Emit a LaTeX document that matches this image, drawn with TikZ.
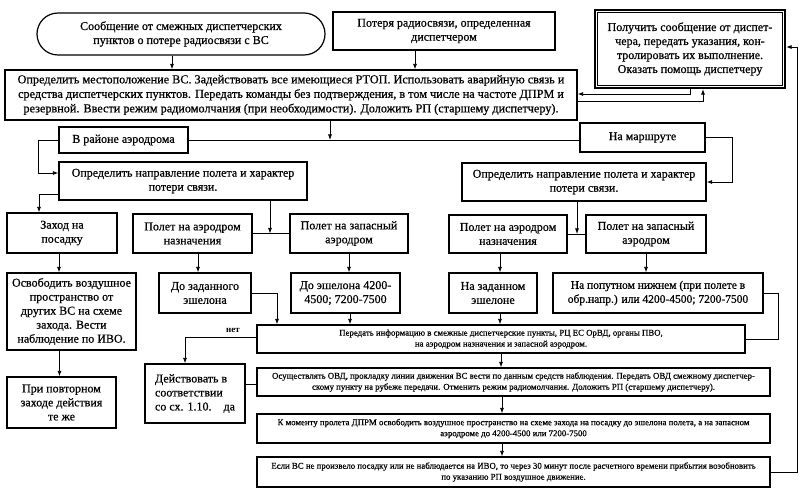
\documentclass[tikz,border=0pt]{standalone}
\usepackage{fontspec}
\setmainfont{Liberation Serif}[UprightFeatures={FakeBold=0.6}]
\usetikzlibrary{arrows.meta,calc}
\begin{document}
\begin{tikzpicture}[x=1pt,y=-1pt,
  box/.style={draw, line width=1.2pt, inner sep=1pt, align=center, font=\fontsize{12}{14}\selectfont},
  bigbox/.style={box, font=\fontsize{12}{14}\selectfont},
  smallbox/.style={box, font=\fontsize{8.8}{11}\selectfont},
  arr/.style={-{Latex[length=5.5pt,width=4pt]}, line width=0.8pt},
  ln/.style={line width=0.8pt},
  lbl/.style={font=\bfseries\fontsize{9}{10}\selectfont, inner sep=1pt}]
\useasboundingbox (0,0) rectangle (800,494);
\fill[white] (0,0) rectangle (800,494);
% top row
\node[box, rounded corners=21pt, minimum width=288pt, minimum height=42pt] (msg) at (181,34)
  {Сообщение от смежных диспетчерских\\пунктов о потере радиосвязи с ВС};
\node[box, minimum width=222pt, minimum height=38pt] (loss) at (444,31)
  {Потеря радиосвязи, определенная\\диспетчером};
\node[box, line width=2.2pt, minimum width=190pt, minimum height=78pt] (rp) at (690,49)
  {Получить сообщение от диспет-\\чера, передать указания, кон-\\тролировать их выполнение.\\Оказать помощь диспетчеру};
\draw[line width=0.7pt] ([shift={(3.5,3.5)}]rp.north west) rectangle ([shift={(-3.5,-3.5)}]rp.south east);
\node[box, font=\fontsize{12.2}{14.5}\selectfont, minimum width=572pt, minimum height=50pt] (main) at (291,95)
  {Определить местоположение ВС. Задействовать все имеющиеся РТОП. Использовать аварийную связь и\\
   средства диспетчерских пунктов. Передать команды без подтверждения, в том числе на частоте ДПРМ и\\
   резервной. Ввести режим радиомолчания (при необходимости). Доложить РП (старшему диспетчеру).};
% second level
\node[box, minimum width=129pt, minimum height=26pt] (area) at (123.5,140) {В районе аэродрома};
\node[box, minimum width=125pt, minimum height=29pt] (route) at (642.5,137.5) {На маршруте};
\node[box, minimum width=248pt, minimum height=38pt] (detL) at (183,181)
  {Определить направление полета и характер\\потери связи.};
\node[box, minimum width=244pt, minimum height=38pt] (detR) at (584,182)
  {Определить направление полета и характер\\потери связи.};
% third level
\node[bigbox, minimum width=110pt, minimum height=40pt] (land) at (62,233) {Заход на\\посадку};
\node[box, minimum width=119pt, minimum height=39pt] (destL) at (192.5,233.5) {Полет на аэродром\\назначения};
\node[box, minimum width=118pt, minimum height=39pt] (altL) at (349,233.5) {Полет на запасный\\аэродром};
\node[box, minimum width=118pt, minimum height=38pt] (destR) at (508,234) {Полет на аэродром\\назначения};
\node[box, minimum width=120pt, minimum height=38pt] (altR) at (646,234) {Полет на запасный\\аэродром};
% fourth level
\node[bigbox, minimum width=129pt, minimum height=77pt] (free) at (71.5,311.5)
  {Освободить воздушное\\пространство от\\других ВС на схеме\\захода. Вести\\наблюдение по ИВО.};
\node[bigbox, minimum width=92pt, minimum height=40pt] (toLvl) at (205,293) {До заданного\\эшелона};
\node[bigbox, minimum width=109pt, minimum height=40pt] (to4200) at (345.5,293) {До эшелона 4200-\\4500; 7200-7500};
\node[bigbox, minimum width=88pt, minimum height=40pt] (atLvl) at (493,293) {На заданном\\эшелоне};
\node[bigbox, font=\fontsize{11.5}{14}\selectfont, minimum width=210pt, minimum height=40pt] (lower) at (658,293)
  {На попутном нижнем (при полете в\\обр.напр.) или 4200-4500; 7200-7500};
% lower blocks
\node[smallbox, minimum width=488pt, minimum height=28pt] (inform) at (501,339)
  {Передать информацию в смежные диспетчерские пункты, РЦ ЕС ОрВД, органы ПВО,\\на аэродром назначения и запасной аэродром.};
\node[bigbox, align=left, minimum width=100pt, minimum height=59pt] (act) at (195,393.5)
  {Действовать в\\соответствии\\со сх. 1.10.\quad да};
\node[bigbox, minimum width=109pt, minimum height=51pt] (repeat) at (61.5,402.5)
  {При повторном\\заходе действия\\те же};
\node[smallbox, minimum width=513pt, minimum height=28pt] (ovd) at (513.5,382)
  {Осуществлять ОВД, прокладку линии движения ВС вести по данным средств наблюдения. Передать ОВД смежному диспетчер-\\скому пункту на рубеже передачи. Отменить режим радиомолчания. Доложить РП (старшему диспетчеру).};
\node[smallbox, minimum width=513pt, minimum height=29pt] (dprm) at (513.5,428.5)
  {К моменту пролета ДПРМ освободить воздушное пространство на схеме захода на посадку до эшелона полета, а на запасном\\аэродроме до 4200-4500 или 7200-7500};
\node[smallbox, minimum width=513pt, minimum height=30pt] (ifnot) at (513.5,472)
  {Если ВС не произвело посадку или не наблюдается на ИВО, то через 30 минут после расчетного времени прибытия возобновить\\по указанию РП воздушное движение.};
\node[lbl] (net) at (233,330) {нет};
% connectors
\draw[arr] ([xshift=-9pt]msg.south) -- ([xshift=-9pt]msg.south |- main.north);
\draw[arr] ([xshift=-29pt]loss.south) -- ([xshift=-29pt]loss.south |- main.north);
\draw[arr] (rp.south) |- ([yshift=1pt]main.east);
\draw[arr] ([yshift=-6pt]main.east) -| ([xshift=13pt]rp.south);
\draw[arr] (ifnot.east) -- ++(27,0) |- ([yshift=2pt]rp.east);
\draw[ln] (area.east) -- (area.east -| route.west);
\draw[arr] ([xshift=39pt]main.south) -- ([xshift=39pt]main.south |- area.east);
\draw[arr] (area.west) -- ++(-20,0) |- ([yshift=8pt]detL.west);
\draw[arr] ([yshift=-13pt]detL.west) -| ([xshift=-23pt]land.north);
\draw[arr] (route.east) -- ++(27,0) |- (detR.east);
\draw[ln] (destL.east) -- (altL.west);
\draw[arr] ([xshift=87pt]detL.south) -- ([xshift=87pt]detL.south |- destL.east);
\draw[ln] (destR.east) -- (altR.west);
\draw[arr] ([xshift=-7pt]detR.south) -- ([xshift=-7pt]detR.south |- destR.east);
\draw[arr] ([xshift=-3pt]land.south) -- ([xshift=-3pt]land.south |- free.north);
\draw[arr] ([xshift=5.5pt]destL.south) -- ([xshift=5.5pt]destL.south |- toLvl.north);
\draw[arr] (altL.south) -- (altL.south |- to4200.north);
\draw[arr] ([xshift=-8pt]destR.south) -- ([xshift=-8pt]destR.south |- atLvl.north);
\draw[arr] (altR.south) -- (altR.south |- lower.north);
\draw[arr] (toLvl.east) -| ([xshift=-224pt]inform.north);
\draw[arr] ([xshift=4.5pt]to4200.south) -- ([xshift=4.5pt]to4200.south |- inform.north);
\draw[arr] ([xshift=7pt]atLvl.south) -- ([xshift=7pt]atLvl.south |- inform.north);
\draw[ln] (lower.east) -- ++(15,0) |- (inform.east);
\draw[arr] ([yshift=2pt]inform.west) -| ([xshift=-10pt]act.north);
\draw[ln] ([yshift=9.5pt]act.east) -- ([yshift=9.5pt]act.east -| ovd.west);
\draw[arr] ([xshift=-12pt]free.south) -- ([xshift=-12pt]free.south |- repeat.north);
\draw[arr] (inform.south) -- (inform.south |- ovd.north);
\draw[arr] ([xshift=-11.5pt]ovd.south) -- ([xshift=-11.5pt]ovd.south |- dprm.north);
\draw[arr] ([xshift=-11.5pt]dprm.south) -- ([xshift=-11.5pt]dprm.south |- ifnot.north);
\end{tikzpicture}
\end{document}
